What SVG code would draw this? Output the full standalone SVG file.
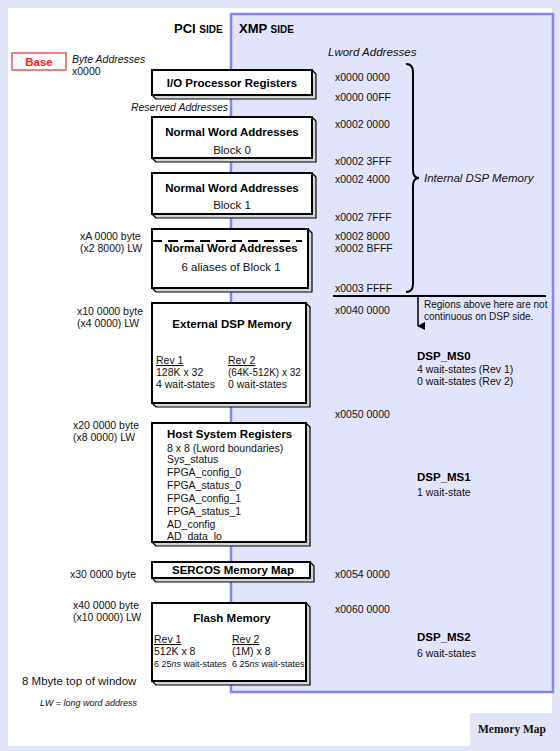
<svg xmlns="http://www.w3.org/2000/svg" width="560" height="751" viewBox="0 0 560 751">
<defs>
<style>
.t{font-family:"Liberation Sans",Arial,sans-serif;font-size:10.5px;fill:#111}
.b{font-weight:bold;font-size:11.5px;fill:#000}
.i{font-style:italic}
.m{text-anchor:middle}
.l{font-size:11.5px}
.s{font-size:9px}
.front{fill:#fff;stroke:#000;stroke-width:2}
.shadow{fill:#d6d6d6;stroke:#000;stroke-width:1.2;stroke-linejoin:round}
.u{text-decoration:underline}
</style>
<marker id="arr" markerWidth="8" markerHeight="8" refX="4" refY="7" orient="auto-start-reverse" markerUnits="userSpaceOnUse" viewBox="0 0 8 8">
<path d="M0,0 L8,0 L4,8 Z" fill="#000"/>
</marker>
</defs>
<rect x="0" y="0" width="560" height="751" fill="#e2e5f7"/>
<rect x="8" y="8" width="544" height="738" fill="#fff"/>
<rect x="231" y="14" width="322" height="678" fill="#e1e4fb" stroke="#8585ef" stroke-width="2.5"/>
<g id="memory-map-tab">
<rect x="470" y="713" width="90" height="38" fill="#e2e5f7"/>
<text x="512" y="733" style="font-family:'Liberation Serif','Times New Roman',serif;font-weight:bold;font-size:11.5px" text-anchor="middle" fill="#111">Memory Map</text>
</g>
<g id="headers">
<text x="174" y="33" class="t b" style="font-size:13px">PCI <tspan style="font-size:10px">SIDE</tspan></text>
<text x="239" y="33" class="t b" style="font-size:13px">XMP <tspan style="font-size:10px">SIDE</tspan></text>
</g>
<g id="base">
<rect x="12" y="53" width="54" height="17" fill="#fff" stroke="#f08080" stroke-width="2"/>
<text x="39" y="65.5" class="t b m" style="fill:#ff2020">Base</text>
</g>
<g id="left-labels">
<text x="72" y="63" class="t i">Byte Addresses</text>
<text x="72" y="75" class="t">x0000</text>
<text x="228" y="111" class="t i" text-anchor="end">Reserved Addresses</text>
<text x="80" y="240" class="t">xA 0000 byte</text>
<text x="80" y="252" class="t">(x2 8000) LW</text>
<text x="77" y="315" class="t">x10 0000 byte</text>
<text x="77" y="327" class="t">(x4 0000) LW</text>
<text x="73" y="429" class="t">x20 0000 byte</text>
<text x="73" y="441" class="t">(x8 0000) LW</text>
<text x="70" y="578" class="t">x30 0000 byte</text>
<text x="73" y="609" class="t">x40 0000 byte</text>
<text x="73" y="621" class="t">(x10 0000) LW</text>
<text x="22" y="685" class="t l">8 Mbyte top of window</text>
<text x="40" y="706" class="t i" style="font-size:9px">LW = long word address</text>
</g>
<g id="right-labels">
<text x="328" y="56" class="t i l">Lword Addresses</text>
<text x="335" y="81" class="t">x0000 0000</text>
<text x="335" y="101" class="t">x0000 00FF</text>
<text x="335" y="128" class="t">x0002 0000</text>
<text x="335" y="165" class="t">x0002 3FFF</text>
<text x="335" y="183" class="t">x0002 4000</text>
<text x="335" y="221" class="t">x0002 7FFF</text>
<text x="335" y="240" class="t">x0002 8000</text>
<text x="335" y="252" class="t">x0002 BFFF</text>
<text x="335" y="292" class="t">x0003 FFFF</text>
<text x="335" y="314" class="t">x0040 0000</text>
<text x="424" y="182" class="t i l">Internal DSP Memory</text>
<text x="424" y="308" class="t" style="font-size:10px">Regions above here are not</text>
<text x="424" y="320" class="t" style="font-size:10px">continuous on DSP side.</text>
<text x="417" y="360" class="t b">DSP_MS0</text>
<text x="417" y="373" class="t">4 wait-states (Rev 1)</text>
<text x="417" y="385" class="t">0 wait-states (Rev 2)</text>
<text x="335" y="418" class="t">x0050 0000</text>
<text x="417" y="481" class="t b">DSP_MS1</text>
<text x="417" y="496" class="t">1 wait-state</text>
<text x="335" y="578" class="t">x0054 0000</text>
<text x="335" y="613" class="t">x0060 0000</text>
<text x="417" y="641" class="t b">DSP_MS2</text>
<text x="417" y="657" class="t">6 wait-states</text>
</g>
<g id="connectors" fill="none" stroke="#000" stroke-width="2">
<path d="M406,64 Q413,64 413,72 V170 Q413,178 419,178 Q413,178 413,186 V284 Q413,292 406,292"/>
<line x1="333" y1="296" x2="546" y2="296"/>
<line x1="418" y1="296" x2="418" y2="326" stroke-width="1.5" marker-end="url(#arr)"/>
</g>
<g id="io-registers">
<polygon class="shadow" points="152,95 156,99 316,99 316,74 312,70"/>
<rect class="front" x="152" y="70" width="160" height="25"/>
<text x="232" y="87" class="t b m">I/O Processor Registers</text>
</g>
<g id="block0">
<polygon class="shadow" points="152,158 156,162 316,162 316,121 312,117"/>
<rect class="front" x="152" y="117" width="160" height="41"/>
<text x="232" y="136" class="t b m">Normal Word Addresses</text>
<text x="232" y="154" class="t m l">Block 0</text>
</g>
<g id="block1">
<polygon class="shadow" points="152,214 156,218 316,218 316,177 312,173"/>
<rect class="front" x="152" y="173" width="160" height="41"/>
<text x="232" y="192" class="t b m">Normal Word Addresses</text>
<text x="232" y="209" class="t m l">Block 1</text>
</g>
<g id="aliases">
<polygon class="shadow" points="152,288 156,292 312,292 312,233 308,229"/>
<rect class="front" x="152" y="229" width="156" height="59"/>
<line x1="152" y1="241" x2="302" y2="241" stroke="#000" stroke-width="2" stroke-dasharray="10 6"/>
<text x="231" y="252" class="t b m">Normal Word Addresses</text>
<text x="231" y="271" class="t m l">6 aliases of Block 1</text>
</g>
<g id="external-dsp">
<polygon class="shadow" points="152,403 156,407 310,407 310,307 306,303"/>
<rect class="front" x="152" y="303" width="154" height="100"/>
<text x="232" y="328" class="t b m">External DSP Memory</text>
<text x="156" y="364" class="t u">Rev 1</text>
<text x="156" y="376" class="t">128K x 32</text>
<text x="156" y="388" class="t">4 wait-states</text>
<text x="228" y="364" class="t u">Rev 2</text>
<text x="228" y="376" class="t" style="font-size:10px">(64K-512K) x 32</text>
<text x="228" y="388" class="t">0 wait-states</text>
</g>
<g id="host-registers">
<polygon class="shadow" points="152,542 156,546 310,546 310,427 306,423"/>
<rect class="front" x="152" y="423" width="154" height="119"/>
<text x="167" y="438" class="t b">Host System Registers</text>
<text x="167" y="452" class="t">8 x 8 (Lword boundaries)</text>
<text x="167" y="463" class="t">Sys_status</text>
<text x="167" y="476" class="t">FPGA_config_0</text>
<text x="167" y="489" class="t">FPGA_status_0</text>
<text x="167" y="502" class="t">FPGA_config_1</text>
<text x="167" y="515" class="t">FPGA_status_1</text>
<text x="167" y="528" class="t">AD_config</text>
<text x="167" y="540" class="t">AD_data_lo</text>
</g>
<g id="sercos">
<polygon class="shadow" points="152,578 156,582 314,582 314,566 310,562"/>
<rect class="front" x="152" y="562" width="158" height="16"/>
<text x="233" y="574" class="t b m">SERCOS Memory Map</text>
</g>
<g id="flash">
<polygon class="shadow" points="152,681 156,685 310,685 310,607 306,603"/>
<rect class="front" x="152" y="603" width="154" height="78"/>
<text x="232" y="622" class="t b m">Flash Memory</text>
<text x="154" y="643" class="t u">Rev 1</text>
<text x="154" y="655" class="t">512K x 8</text>
<text x="154" y="667" class="t s">6 25<tspan font-style="italic">ns</tspan> wait-states</text>
<text x="232" y="643" class="t u">Rev 2</text>
<text x="232" y="655" class="t">(1M) x 8</text>
<text x="232" y="667" class="t s">6 25<tspan font-style="italic">ns</tspan> wait-states</text>
</g>
</svg>
